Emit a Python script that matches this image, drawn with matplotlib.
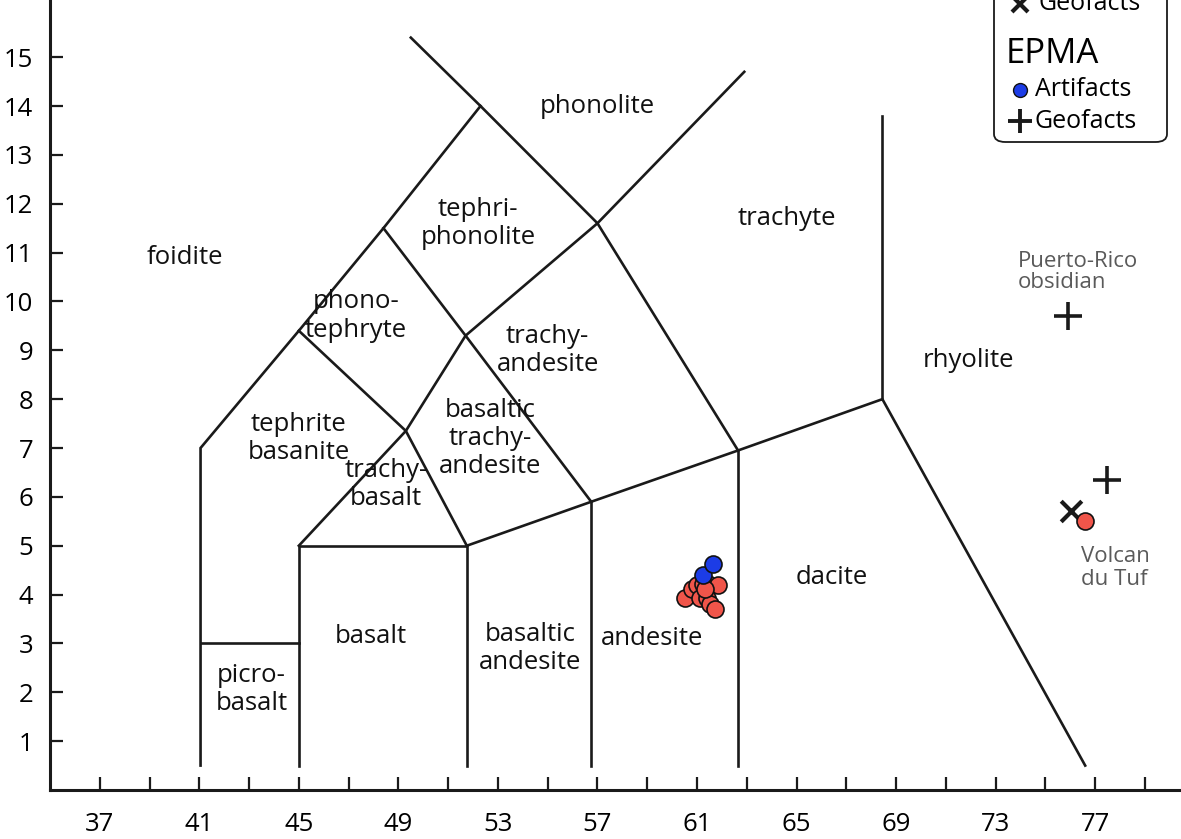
import numpy as np
import matplotlib.pyplot as plt
from matplotlib.patches import FancyBboxPatch

plt.rcParams['font.family'] = ['Open Sans', 'DejaVu Sans']

# TAS field boundaries (SiO2 wt%, Na2O+K2O wt%), as drawn in the figure
boundaries = [
    [(41.05, 0.5), (41.05, 7.0), (45.0, 9.4), (48.4, 11.5), (52.3, 14.0), (57.0, 11.6), (62.65, 6.95)],
    [(52.3, 14.0), (49.5, 15.4)],
    [(41.05, 3.0), (45.0, 3.0)],
    [(45.0, 0.5), (45.0, 5.0), (51.75, 5.0), (51.75, 0.5)],
    [(45.0, 5.0), (49.3, 7.35), (51.7, 9.3), (57.0, 11.6), (62.9, 14.7)],
    [(45.0, 9.4), (49.3, 7.35), (51.75, 5.0)],
    [(48.4, 11.5), (51.7, 9.3), (56.75, 5.9)],
    [(51.75, 5.0), (56.75, 5.9), (62.65, 6.95), (68.45, 8.0), (76.6, 0.5)],
    [(56.75, 0.5), (56.75, 5.9)],
    [(62.65, 0.5), (62.65, 6.95)],
    [(68.45, 8.0), (68.45, 13.8)],
]

field_names = ['foidite', 'phonolite', 'tephri-\nphonolite', 'trachyte', 'phono-\ntephryte',
               'trachy-\nandesite', 'rhyolite', 'tephrite\nbasanite', 'basaltic\ntrachy-\nandesite',
               'trachy-\nbasalt', 'dacite', 'basalt', 'basaltic\nandesite', 'andesite', 'picro-\nbasalt']
field_x = [40.4, 57.0, 52.2, 64.6, 47.3, 55.0, 71.9, 45.0, 52.7, 48.5, 66.4, 47.9, 54.3, 59.2, 43.1]
field_y = [10.9, 14.0, 11.6, 11.7, 9.7, 9.0, 8.8, 7.2, 7.2, 6.25, 4.35, 3.15, 2.9, 3.1, 2.05]

# XRF artifacts (red) and EPMA artifacts (blue)
xrf_art_sio2 = [60.53, 60.81, 61.02, 61.26, 61.46, 61.86, 61.14, 61.42, 61.54, 61.74, 61.34, 76.6]
xrf_art_alk = [3.94, 4.11, 4.19, 4.21, 4.21, 4.19, 3.92, 3.94, 3.80, 3.70, 4.11, 5.50]
epma_art_sio2 = [61.26, 61.66]
epma_art_alk = [4.41, 4.62]

# geofacts
xrf_geo_sio2 = [76.04]
xrf_geo_alk = [5.72]
epma_geo_sio2 = [75.92, 77.48]
epma_geo_alk = [9.71, 6.34]

red = '#f0554a'
blue = '#1c3ce6'

fig = plt.figure(figsize=(11.81, 8.39), dpi=100)
ax = fig.add_axes([50 / 1181, 49 / 839, 1131 / 1181, 790 / 839])

for seg in boundaries:
    xs, ys = zip(*seg)
    ax.plot(xs, ys, color='#1a1a1a', lw=1.9, solid_joinstyle='miter')

for name, x, y in zip(field_names, field_x, field_y):
    ax.text(x, y, name, ha='center', va='center', fontsize=18.5, color='#111111', linespacing=1.17)

ax.scatter(xrf_art_sio2, xrf_art_alk, s=150, c=red, edgecolors='#111111', linewidths=1.2, zorder=3)
ax.scatter(epma_art_sio2, epma_art_alk, s=150, c=blue, edgecolors='#111111', linewidths=1.2, zorder=4)
ax.scatter(xrf_geo_sio2, xrf_geo_alk, s=220, marker='x', c='#1a1a1a', linewidths=3, zorder=2)
ax.scatter(epma_geo_sio2, epma_geo_alk, s=400, marker='+', c='#1a1a1a', linewidths=2.6, zorder=2)

ax.text(73.9, 10.6, 'Puerto-Rico\nobsidian', ha='left', va='center', fontsize=16,
        color='#5a5a5a', linespacing=1.0)
ax.text(76.45, 4.55, 'Volcan\ndu Tuf', ha='left', va='center', fontsize=16,
        color='#5a5a5a', linespacing=1.1)

ax.set_xlim(35, 80.45)
ax.set_ylim(0, 16.17)
ax.set_xticks(np.arange(37, 80, 2))
ax.set_xticklabels([str(v) if (v - 37) % 4 == 0 else '' for v in range(37, 80, 2)])
ax.set_yticks(range(1, 16))
ax.tick_params(axis='both', direction='in', length=9.5, width=1.6, labelsize=18.5, color='#1a1a1a')
ax.tick_params(axis='x', pad=16)
ax.tick_params(axis='y', pad=12)
for side in ['top', 'right']:
    ax.spines[side].set_visible(False)
for side in ['left', 'bottom']:
    ax.spines[side].set_linewidth(2.2)
    ax.spines[side].set_color('#1a1a1a')

# legend box (partly cut off at the top, as in the figure)
def fx(px):
    return (px - 50) / 1131

def fy(py):
    return (790 - py) / 790

box = FancyBboxPatch((fx(994), fy(142)), fx(1167) - fx(994), 0.3,
                     boxstyle='round,pad=0,rounding_size=0.01', transform=ax.transAxes,
                     facecolor='white', edgecolor='#1a1a1a', lw=1.3, clip_on=False, zorder=5)
ax.add_patch(box)
ax.plot([fx(1020)], [fy(4)], marker='x', ms=11, mew=3, color='#1a1a1a',
        transform=ax.transAxes, clip_on=False, zorder=6)
ax.text(fx(1038), fy(4), 'Geofacts', transform=ax.transAxes, ha='left', va='center',
        fontsize=18, zorder=6)
ax.text(fx(1006), fy(54), 'EPMA', transform=ax.transAxes, ha='left', va='center',
        fontsize=25, zorder=6)
ax.plot([fx(1020)], [fy(90)], marker='o', ms=10, mew=1, mfc=blue, mec='#111111',
        transform=ax.transAxes, clip_on=False, zorder=6)
ax.text(fx(1035), fy(90), 'Artifacts', transform=ax.transAxes, ha='left', va='center',
        fontsize=18, zorder=6)
ax.plot([fx(1020)], [fy(121)], marker='+', ms=17, mew=2.8, color='#1a1a1a',
        transform=ax.transAxes, clip_on=False, zorder=6)
ax.text(fx(1034), fy(121), 'Geofacts', transform=ax.transAxes, ha='left', va='center',
        fontsize=18, zorder=6)

fig.savefig('out.png', dpi=100)
